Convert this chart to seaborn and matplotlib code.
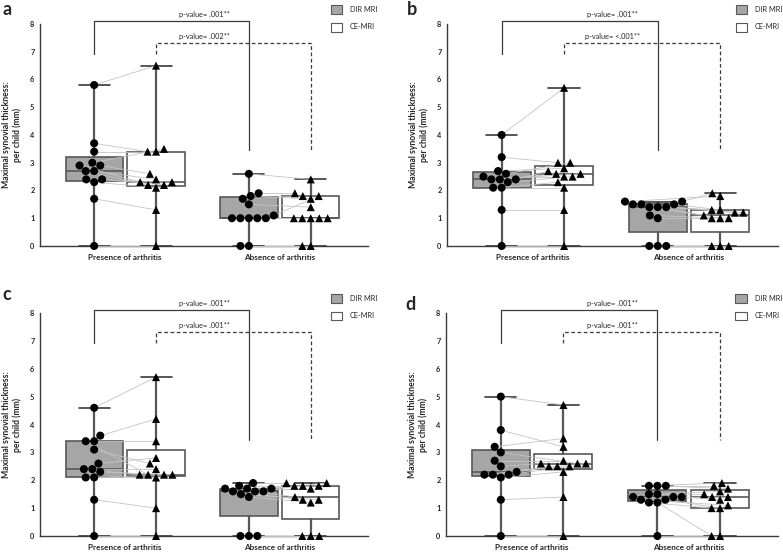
"""Maximal synovial thickness per child: DIR MRI vs CE-MRI, four panels."""
import numpy as np
import pandas as pd
import matplotlib
matplotlib.use("Agg")
import matplotlib.pyplot as plt
from matplotlib.patches import Patch
import seaborn as sns


GROUPS = ["Presence of arthritis", "Absence of arthritis"]
MODALITIES = ["DIR MRI", "CE-MRI"]
LETTERS = ["a", "b", "c", "d"]
Y_TICKS = [0, 1, 2, 3, 4, 5, 6, 7, 8]

# values per child, same index = same child in DIR MRI and CE-MRI
A_PRES_DIR = [5.8, 3.7, 3.4, 3.0, 2.9, 2.9, 2.7, 2.7, 2.4, 2.4, 2.3, 1.7, 0.0]
A_PRES_CE = [6.5, 3.4, 3.4, 3.5, 2.6, 2.3, 2.4, 2.2, 2.2, 2.3, 2.1, 1.3, 0.0]
A_ABS_DIR = [2.6, 1.9, 1.8, 1.7, 1.5, 1.1, 1.0, 1.0, 1.0, 1.0, 1.0, 0.0, 0.0]
A_ABS_CE = [2.4, 1.9, 1.7, 1.8, 1.4, 1.8, 1.0, 1.0, 1.0, 1.0, 1.0, 0.0, 0.0]

B_PRES_DIR = [4.0, 3.2, 2.7, 2.6, 2.5, 2.4, 2.4, 2.4, 2.3, 2.1, 2.1, 1.3, 0.0]
B_PRES_CE = [5.7, 3.0, 2.8, 3.0, 2.5, 2.6, 2.6, 2.7, 2.5, 2.3, 2.1, 1.3, 0.0]
B_ABS_DIR = [1.6, 1.6, 1.5, 1.5, 1.5, 1.4, 1.4, 1.4, 1.1, 1.0, 0.0, 0.0, 0.0]
B_ABS_CE = [1.9, 1.8, 1.3, 1.2, 1.3, 1.1, 1.0, 1.2, 1.0, 1.0, 0.0, 0.0, 0.0]

C_PRES_DIR = [4.6, 3.6, 3.4, 3.4, 3.1, 2.6, 2.4, 2.4, 2.3, 2.1, 2.1, 1.3, 0.0]
C_PRES_CE = [5.7, 4.2, 3.4, 2.2, 2.6, 2.8, 2.4, 2.2, 2.2, 2.1, 2.2, 1.0, 0.0]
C_ABS_DIR = [1.9, 1.8, 1.7, 1.7, 1.7, 1.6, 1.6, 1.6, 1.5, 1.4, 0.0, 0.0, 0.0]
C_ABS_CE = [1.9, 1.8, 1.9, 1.8, 1.7, 1.8, 1.4, 1.3, 1.3, 1.2, 0.0, 0.0, 0.0]

D_PRES_DIR = [5.0, 3.8, 3.2, 3.0, 2.7, 2.5, 2.3, 2.2, 2.2, 2.2, 2.1, 1.3, 0.0]
D_PRES_CE = [4.7, 3.2, 3.5, 2.6, 2.7, 2.6, 2.5, 2.5, 2.6, 2.5, 2.3, 1.4, 0.0]
D_ABS_DIR = [1.8, 1.8, 1.8, 1.5, 1.5, 1.4, 1.4, 1.4, 1.3, 1.3, 1.2, 1.2, 0.0]
D_ABS_CE = [1.9, 1.8, 1.7, 1.6, 1.5, 1.4, 1.4, 1.3, 1.1, 1.0, 1.0, 0.0, 0.0]

P_SOLID = [".001**", ".001**", ".001**", ".001**"]
P_DASHED = [".002**", "<.001**", ".001**", ".001**"]

# layout (figure fractions) and styling
RECTS = [
    [0.0511, 0.556, 0.4189, 0.4007],
    [0.5709, 0.556, 0.4227, 0.4007],
    [0.0511, 0.0325, 0.4189, 0.4025],
    [0.5696, 0.0325, 0.4240, 0.4025],
]
LEGEND_X = [0.887, 0.872, 0.887, 0.872]
LETTER_POS = [(0.003, 0.999), (0.519, 0.999), (0.003, 0.483), (0.518, 0.465)]
HUE_OFFSET = [-0.2, 0.2]
BOX_FILL = ["#a6a6a6", "white"]
MARKERS = ["o", "^"]
EDGE = "#585858"
LINE = "#3a3a3a"


def make_frame(pres_dir, pres_ce, abs_dir, abs_ce):
    rows = []
    for group, dir_vals, ce_vals in [(GROUPS[0], pres_dir, pres_ce), (GROUPS[1], abs_dir, abs_ce)]:
        for mod, vals in [(MODALITIES[0], dir_vals), (MODALITIES[1], ce_vals)]:
            for child, v in enumerate(vals):
                rows.append({"group": group, "modality": mod, "child": child, "value": v})
    return pd.DataFrame(rows)


def draw_panel(fig, rect, df):
    ax = fig.add_axes(rect)

    # points first so the x axis becomes categorical
    swarm_cols = {}
    for mod, marker in zip(MODALITIES, MARKERS):
        n_before = len(ax.collections)
        sns.swarmplot(
            data=df[df["modality"] == mod], x="group", y="value",
            hue="modality", hue_order=MODALITIES, order=GROUPS, dodge=True,
            palette=["black", "black"], marker=marker, size=5.8, linewidth=0,
            legend=False, ax=ax, zorder=4, clip_on=False,
        )
        new = [c for c in ax.collections[n_before:] if len(c.get_offsets()) > 0]
        swarm_cols[mod] = new

    # boxes with SPSS-style (n+1) quartiles, whiskers to min/max
    stats, positions = [], []
    for gi, group in enumerate(GROUPS):
        for mi, mod in enumerate(MODALITIES):
            v = df.loc[(df["group"] == group) & (df["modality"] == mod), "value"].to_numpy()
            q1, med, q3 = np.percentile(v, [25, 50, 75], method="weibull")
            stats.append(dict(med=med, q1=q1, q3=q3, whislo=v.min(), whishi=v.max(), fliers=[]))
            positions.append(gi + HUE_OFFSET[mi])
    bp = ax.bxp(
        stats, positions=positions, widths=0.37, capwidths=0.2, patch_artist=True,
        showfliers=False, manage_ticks=False,
        boxprops=dict(edgecolor=EDGE, linewidth=1.2),
        medianprops=dict(color=EDGE, linewidth=1.2),
        whiskerprops=dict(color=EDGE, linewidth=1.6),
        capprops=dict(color=LINE, linewidth=1.2),
        zorder=2,
    )
    for i, box in enumerate(bp["boxes"]):
        box.set_facecolor(BOX_FILL[i % 2])

    ax.set_xlim(-0.55, 1.57)
    ax.set_ylim(0, 8)
    ax.set_yticks(Y_TICKS)
    return ax, swarm_cols


def finish_panel(ax, swarm_cols, p1, p2, legend_x):
    # paired lines between the same child's DIR and CE values
    for dir_col, ce_col in zip(swarm_cols[MODALITIES[0]], swarm_cols[MODALITIES[1]]):
        d_xy = np.asarray(dir_col.get_offsets())
        c_xy = np.asarray(ce_col.get_offsets())
        for (x0, y0), (x1, y1) in zip(d_xy, c_xy):
            ax.plot([x0, x1], [y0, y1], color="#c4c4c4", lw=0.6, zorder=3, clip_on=False)

    # significance brackets
    ax.plot([-0.2, -0.2, 0.8, 0.8], [6.93, 8.12, 8.12, 3.45], color=LINE, lw=0.9,
            clip_on=False, zorder=1)
    ax.plot([0.2, 0.2, 1.2, 1.2], [6.93, 7.33, 7.33, 3.45], color=LINE, lw=0.9,
            ls=(0, (3, 2)), clip_on=False, zorder=1)
    ax.text(0.51, 8.33, f"p-value= {p1}", ha="center", va="center", fontsize=5.3)
    ax.text(0.51, 7.55, f"p-value= {p2}", ha="center", va="center", fontsize=5.3)

    handles = [Patch(facecolor=BOX_FILL[i], edgecolor=EDGE, linewidth=0.8) for i in range(2)]
    ax.legend(handles, MODALITIES, loc="upper left", bbox_to_anchor=(legend_x, 1.085),
              frameon=False, fontsize=5.3, handlelength=1.5, handleheight=1.5,
              handletextpad=1.1, labelspacing=1.15, borderpad=0, borderaxespad=0)

    ax.set_xlabel("")
    ax.set_ylabel("Maximal synovial thickness:\nper child (mm)", fontsize=6.2,
                  fontweight="bold", labelpad=5.5, linespacing=1.3)
    ax.set_xticks([0, 1])
    ax.set_xticklabels(GROUPS, fontsize=5.9, fontweight="bold")
    ax.tick_params(axis="x", length=0, pad=6)
    ax.tick_params(axis="y", length=2, width=0.8, pad=2, labelsize=5.3, color=LINE)
    for lab in ax.get_yticklabels():
        lab.set_fontweight("bold")
    sns.despine(ax=ax)
    for side in ["left", "bottom"]:
        ax.spines[side].set_color(LINE)
        ax.spines[side].set_linewidth(1.0)


def main():
    sns.set_theme(style="white")
    plt.rcParams["font.family"] = ["Lato", "DejaVu Sans"]

    panel_data = [
        (A_PRES_DIR, A_PRES_CE, A_ABS_DIR, A_ABS_CE),
        (B_PRES_DIR, B_PRES_CE, B_ABS_DIR, B_ABS_CE),
        (C_PRES_DIR, C_PRES_CE, C_ABS_DIR, C_ABS_CE),
        (D_PRES_DIR, D_PRES_CE, D_ABS_DIR, D_ABS_CE),
    ]

    fig = plt.figure(figsize=(7.83, 5.54), dpi=100)
    panels = []
    for rect, vals in zip(RECTS, panel_data):
        panels.append(draw_panel(fig, rect, make_frame(*vals)))

    # swarm positions are only known after a draw
    fig.canvas.draw()
    for (ax, cols), p1, p2, lx in zip(panels, P_SOLID, P_DASHED, LEGEND_X):
        finish_panel(ax, cols, p1, p2, lx)
        ax.set_xlim(-0.55, 1.57)
        ax.set_ylim(0, 8)

    for letter, (x, y) in zip(LETTERS, LETTER_POS):
        fig.text(x, y, letter, fontsize=13, fontweight="bold", ha="left", va="top")

    fig.savefig("out.png", dpi=100)
    plt.close(fig)


if __name__ == "__main__":
    main()
